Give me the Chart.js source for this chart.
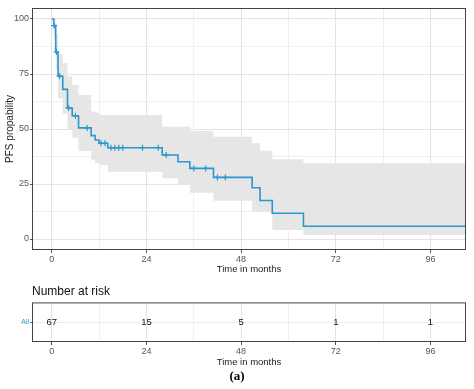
<!DOCTYPE html>
<html>
<head>
<meta charset="utf-8">
<script src="https://cdn.jsdelivr.net/npm/chart.js@4"></script>
<style>
  body { margin: 0; background: #fff; width: 474px; height: 389px; position: relative; overflow: hidden; }
  #km { position: absolute; left: 0; top: 0; }
  #risk { position: absolute; left: 0; top: 280px; }
  #cap { position: absolute; left: 0; width: 474px; top: 368px; text-align: center;
         font: bold 13px "Liberation Serif", "DejaVu Serif", serif; color: #000; }
</style>
</head>
<body>
<canvas id="km" width="474" height="280"></canvas>
<canvas id="risk" width="474" height="95"></canvas>
<div id="cap">(a)</div>
<script>
// KM curve (months, %)
const times = [0, 0.5, 1.0, 1.6, 2.8, 4.0, 5.2, 6.8, 10.0, 11.0, 12.0, 14.2, 28.0, 32.0, 35.0, 41.0, 50.8, 52.8, 55.9, 63.8, 105];
const surv  = [100, 97, 85, 74, 68, 59.5, 56, 50.5, 47, 45, 43.5, 41.5, 38.2, 35.1, 32.1, 28, 23.3, 17.5, 11.7, 5.8, 5.8];
const upper = [100, 100, 93, 84, 80, 74, 70, 65.5, 58, 57.5, 56.4, 56.4, 51, 51, 49.1, 46.5, 43.5, 40.1, 36.2, 34.4, 34.4];
const lower = [100, 91, 77, 64, 57, 49.5, 46, 40, 36, 34.5, 33.6, 30.6, 27.6, 24.5, 21, 17.4, 12.4, 12.4, 4.1, 1.8, 1.8];

// censored observations
const censorTimes = [0.6, 1.2, 2.0, 4.3, 6.0, 9.0, 12.5, 13.5, 15, 16, 17, 18, 23, 27, 29, 36, 39, 42, 44];
const censorSurv  = [97, 85, 74, 59.5, 56, 50.5, 43.5, 43.5, 41.5, 41.5, 41.5, 41.5, 41.5, 41.5, 38.2, 32.1, 32.1, 28, 28];

// number at risk table
const riskTimes = [0, 24, 48, 72, 96];
const riskCounts = [67, 15, 5, 1, 1];

const xTicks = [0, 12, 24, 36, 48, 60, 72, 84, 96];
const yTicks = [0, 12.5, 25, 37.5, 50, 62.5, 75, 87.5, 100];

const blue = '#2b97cf';
const font = 'Liberation Sans, Arial, sans-serif';
const pts = (xs, ys) => xs.map((x, i) => ({ x: x, y: ys[i] }));
// step-function vertices: hold each value until the next time, then drop
const steps = (xs, ys) => {
  const out = [{ x: xs[0], y: ys[0] }];
  for (let i = 1; i < xs.length; i++) {
    out.push({ x: xs[i], y: ys[i - 1] });
    out.push({ x: xs[i], y: ys[i] });
  }
  return out;
};
const isMajorX = v => v % 24 === 0;
const isMajorY = v => v % 25 === 0;

const panelBorder = {
  id: 'panelBorder',
  afterDraw(chart) {
    const a = chart.chartArea, ctx = chart.ctx;
    ctx.save();
    ctx.strokeStyle = '#444';
    ctx.lineWidth = 1;
    ctx.strokeRect(a.left + 0.5, a.top + 0.5, a.right - a.left - 1, a.bottom - a.top - 1);
    ctx.restore();
  }
};

function xScale(height, title, titlePadBottom) {
  return {
    type: 'linear', min: -5, max: 105,
    afterBuildTicks: s => { s.ticks = xTicks.map(v => ({ value: v })); },
    afterFit: s => { s.height = height; },
    border: { display: false },
    grid: {
      color: c => isMajorX(c.tick.value) ? '#e3e3e3' : '#f0f0f0',
      tickColor: c => isMajorX(c.tick.value) ? '#555' : 'rgba(0,0,0,0)',
      tickLength: 3
    },
    ticks: {
      autoSkip: false, maxRotation: 0, padding: 1,
      color: '#555', font: { family: font, size: 9 },
      callback: v => isMajorX(v) ? String(v) : ''
    },
    title: { display: true, text: title, color: '#222', font: { family: font, size: 9.5 },
             padding: { top: 0, bottom: titlePadBottom } }
  };
}

new Chart(document.getElementById('km'), {
  type: 'line',
  data: {
    datasets: [
      { data: pts(censorTimes, censorSurv), showLine: false, pointStyle: 'cross',
        pointRadius: 3, pointBorderWidth: 1.2, borderColor: blue, backgroundColor: blue },
      { data: steps(times, surv), borderColor: blue, borderWidth: 1.6,
        pointRadius: 0, fill: false },
      { data: steps(times, upper), borderWidth: 0, borderColor: 'rgba(0,0,0,0)',
        pointRadius: 0, fill: '+1', backgroundColor: '#e6e6e6' },
      { data: steps(times, lower), borderWidth: 0, borderColor: 'rgba(0,0,0,0)',
        pointRadius: 0, fill: false }
    ]
  },
  options: {
    responsive: false, animation: false,
    layout: { padding: { top: 8, right: 8, left: 0, bottom: 0 } },
    plugins: { legend: { display: false }, tooltip: { enabled: false } },
    scales: {
      x: xScale(30, 'Time in months', 5),
      y: {
        type: 'linear', min: -5, max: 105,
        afterBuildTicks: s => { s.ticks = yTicks.map(v => ({ value: v })); },
        afterFit: s => { s.width = 32; },
        border: { display: false },
        grid: {
          color: c => isMajorY(c.tick.value) ? '#e3e3e3' : '#f0f0f0',
          tickColor: c => isMajorY(c.tick.value) ? '#555' : 'rgba(0,0,0,0)',
          tickLength: 2
        },
        ticks: {
          autoSkip: false, padding: 1,
          color: '#555', font: { family: font, size: 9 },
          callback: v => isMajorY(v) ? String(v) : ''
        },
        title: { display: true, text: 'PFS propability', color: '#222',
                 font: { family: font, size: 10 }, padding: { top: 4, bottom: 0 } }
      }
    }
  },
  plugins: [panelBorder]
});

const riskText = {
  id: 'riskText',
  afterDatasetsDraw(chart) {
    const ctx = chart.ctx, xs = chart.scales.x, ys = chart.scales.y;
    ctx.save();
    ctx.fillStyle = '#111';
    ctx.font = '9.5px ' + font;
    ctx.textAlign = 'center';
    ctx.textBaseline = 'middle';
    riskTimes.forEach((t, i) => {
      ctx.fillText(String(riskCounts[i]), xs.getPixelForValue(t), ys.getPixelForValue(0));
    });
    ctx.restore();
  }
};

new Chart(document.getElementById('risk'), {
  type: 'line',
  data: {
    labels: ['All'],
    datasets: [{ data: pts(riskTimes, riskTimes.map(() => 'All')), showLine: false, pointRadius: 0 }]
  },
  options: {
    responsive: false, animation: false,
    layout: { padding: { top: 0, right: 8, left: 0, bottom: 0 } },
    plugins: {
      legend: { display: false }, tooltip: { enabled: false },
      title: { display: true, text: 'Number at risk', align: 'start', fullSize: false,
               color: '#111', font: { family: font, size: 12, weight: 'normal' },
               padding: { top: 4, bottom: 4 } }
    },
    scales: {
      x: xScale(33, 'Time in months', 7),
      y: {
        type: 'category', labels: ['All'], offset: true,
        afterFit: s => { s.width = 32; },
        border: { display: false },
        grid: { color: '#ececec', tickColor: '#2b97cf', tickLength: 2 },
        ticks: { color: blue, padding: 1, font: { family: font, size: 7 } }
      }
    }
  },
  plugins: [panelBorder, riskText]
});
</script>
</body>
</html>
